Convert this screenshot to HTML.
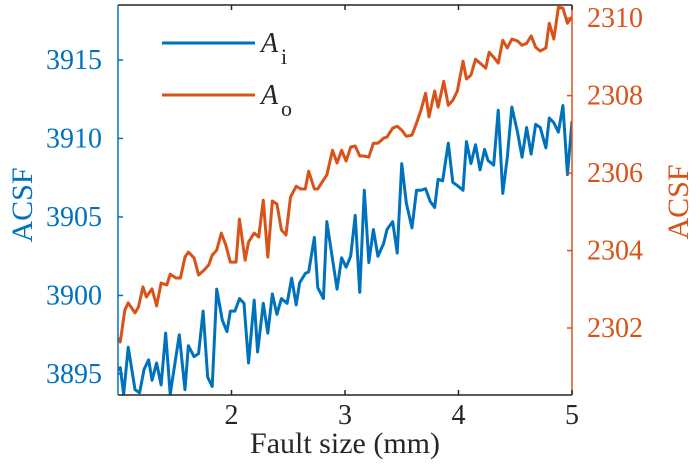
<!DOCTYPE html>
<html><head><meta charset="utf-8"><style>
body{margin:0;background:#fff}
svg text{font-family:"Liberation Serif",serif}
</style></head><body>
<svg id="chart" width="700" height="466" viewBox="0 0 700 466">
<g id="g"></g>
</svg>
<script>
const xTicks=[2,3,4,5];
const yLeftTicks=[3895,3900,3905,3910,3915];
const yRightTicks=[2302,2304,2306,2308,2310];
const xBlue=[1.00,1.02,1.05,1.09,1.15,1.19,1.23,1.27,1.30,1.34,1.38,1.42,1.46,1.54,1.59,1.62,1.67,1.71,1.75,1.79,1.83,1.87,1.92,1.96,1.99,2.03,2.07,2.11,2.15,2.20,2.23,2.28,2.32,2.36,2.40,2.44,2.49,2.53,2.57,2.60,2.65,2.68,2.73,2.76,2.81,2.84,2.93,2.97,3.01,3.05,3.09,3.13,3.17,3.21,3.25,3.29,3.34,3.37,3.42,3.46,3.50,3.54,3.59,3.63,3.67,3.71,3.75,3.79,3.82,3.86,3.91,3.95,3.99,4.04,4.07,4.11,4.15,4.19,4.23,4.26,4.31,4.35,4.39,4.43,4.47,4.52,4.56,4.60,4.64,4.68,4.72,4.77,4.80,4.84,4.88,4.92,4.96,5.00];
const yBlue=[3895.3,3895.4,3893.7,3896.7,3894.0,3893.8,3895.3,3895.9,3894.6,3895.7,3894.3,3897.6,3893.7,3897.5,3894.0,3896.8,3896.1,3896.3,3899.0,3894.8,3894.2,3900.4,3898.4,3897.7,3899.0,3899.0,3899.8,3899.5,3895.7,3899.7,3896.4,3899.5,3897.6,3900.1,3898.8,3899.8,3899.5,3901.1,3899.4,3900.8,3901.4,3901.5,3903.7,3900.5,3899.8,3904.7,3900.4,3902.4,3901.8,3902.5,3905.1,3900.2,3906.7,3902.1,3904.2,3902.5,3903.3,3904.2,3904.7,3902.7,3908.4,3905.9,3904.3,3906.7,3906.7,3906.8,3906.0,3905.6,3907.4,3907.3,3909.7,3907.2,3907.0,3906.7,3909.8,3908.4,3909.6,3908.0,3909.3,3908.6,3908.3,3911.8,3906.5,3908.8,3912.0,3910.4,3908.8,3910.7,3909.0,3910.9,3910.7,3909.4,3911.3,3911.0,3910.4,3912.1,3907.7,3911.1];
const xOrange=[1.00,1.02,1.06,1.09,1.15,1.18,1.22,1.25,1.30,1.34,1.38,1.43,1.46,1.51,1.55,1.59,1.62,1.67,1.71,1.76,1.80,1.83,1.87,1.91,1.95,1.99,2.04,2.07,2.12,2.15,2.20,2.24,2.28,2.32,2.36,2.40,2.44,2.48,2.52,2.57,2.61,2.65,2.68,2.73,2.76,2.81,2.84,2.89,2.93,2.97,3.01,3.05,3.09,3.13,3.17,3.21,3.25,3.29,3.34,3.37,3.42,3.46,3.50,3.54,3.59,3.63,3.67,3.71,3.74,3.79,3.82,3.87,3.91,3.95,3.99,4.04,4.07,4.11,4.15,4.19,4.24,4.27,4.31,4.35,4.39,4.43,4.47,4.52,4.56,4.60,4.64,4.68,4.72,4.77,4.80,4.84,4.88,4.92,4.96,5.00];
const yOrange=[2301.74,2301.64,2302.46,2302.65,2302.39,2302.54,2303.06,2302.80,2303.01,2302.57,2303.16,2303.11,2303.39,2303.29,2303.29,2303.83,2303.96,2303.81,2303.37,2303.50,2303.63,2303.88,2304.01,2304.45,2304.14,2303.70,2303.70,2304.81,2303.75,2304.22,2304.45,2304.35,2305.30,2303.83,2305.28,2305.20,2304.53,2304.40,2305.38,2305.66,2305.59,2305.59,2306.05,2305.59,2305.59,2305.82,2305.95,2306.59,2306.26,2306.59,2306.31,2306.67,2306.70,2306.44,2306.44,2306.41,2306.77,2306.77,2306.90,2306.93,2307.16,2307.21,2307.11,2306.95,2306.98,2307.29,2307.63,2308.06,2307.45,2308.12,2307.70,2308.37,2307.75,2307.88,2308.12,2308.89,2308.43,2308.53,2308.94,2308.84,2308.71,2309.12,2308.99,2308.84,2309.43,2309.23,2309.46,2309.41,2309.30,2309.35,2309.54,2309.25,2309.15,2309.23,2309.87,2309.46,2310.28,2310.26,2309.87,2310.03];

const X0=118,X1=572,Y0=5,Y1=395;
const BLUE='#0072BD',OR='#D95319';
const sx=v=>X0+(v-1)/(5-1)*(X1-X0);
const syL=v=>Y1-(v-3893.66)/(3918.5-3893.66)*(Y1-Y0);
const syR=v=>Y1-(v-2300.27)/(2310.34-2300.27)*(Y1-Y0);
const NS='http://www.w3.org/2000/svg';
const g=document.getElementById('g');
function mk(t,a,txt){const e=document.createElementNS(NS,t);for(const k in a)e.setAttribute(k,a[k]);if(txt!==undefined)e.textContent=txt;g.appendChild(e);return e;}

let clip=document.createElementNS(NS,'clipPath');clip.setAttribute('id','pc');
let cr=document.createElementNS(NS,'rect');cr.setAttribute('x',X0);cr.setAttribute('y',Y0);cr.setAttribute('width',X1-X0);cr.setAttribute('height',Y1-Y0);
clip.appendChild(cr);g.appendChild(clip);

let e;
e=mk('polyline',{points:xBlue.map((x,i)=>sx(x)+','+syL(yBlue[i])).join(' '),fill:'none',stroke:BLUE,'stroke-width':3,'stroke-linejoin':'round','clip-path':'url(#pc)'});


e=mk('polyline',{points:xOrange.map((x,i)=>sx(x)+','+syR(yOrange[i])).join(' '),fill:'none',stroke:OR,'stroke-width':3,'stroke-linejoin':'round','clip-path':'url(#pc)'});



e=mk('line',{x1:X0,y1:Y0,x2:X1,y2:Y0,stroke:'#262626','stroke-width':1.5});

e=mk('line',{x1:X0,y1:Y1,x2:X1,y2:Y1,stroke:'#262626','stroke-width':1.5});

e=mk('line',{x1:X0,y1:Y0,x2:X0,y2:Y1,stroke:BLUE,'stroke-width':1.5});

e=mk('line',{x1:X1,y1:Y0,x2:X1,y2:Y1,stroke:OR,'stroke-width':1.5});


xTicks.forEach(t=>{
  mk('line',{x1:sx(t),y1:Y1,x2:sx(t),y2:Y1-5,stroke:'#262626','stroke-width':1.5});
  mk('line',{x1:sx(t),y1:Y0,x2:sx(t),y2:Y0+5,stroke:'#262626','stroke-width':1.5});
  e=mk('text',{x:sx(t),y:424,'font-size':28,fill:'#262626','text-anchor':'middle'},String(t));
  
});
yLeftTicks.forEach(t=>{
  mk('line',{x1:X0,y1:syL(t),x2:X0+5,y2:syL(t),stroke:BLUE,'stroke-width':1.5});
  e=mk('text',{x:102,y:syL(t)+9,'font-size':28,fill:BLUE,'text-anchor':'end'},String(t));
  
});
yRightTicks.forEach(t=>{
  mk('line',{x1:X1,y1:syR(t),x2:X1-5,y2:syR(t),stroke:OR,'stroke-width':1.5});
  e=mk('text',{x:587,y:syR(t)+9,'font-size':28,fill:OR,'text-anchor':'start'},String(t));
  
});
e=mk('text',{x:345,y:453,'font-size':30,fill:'#262626','text-anchor':'middle'},'Fault size (mm)');

e=mk('text',{x:0,y:0,'font-size':30,fill:BLUE,'text-anchor':'middle',transform:'translate(32,205) rotate(-90)'},'ACSF');

e=mk('text',{x:0,y:0,'font-size':30,fill:OR,'text-anchor':'middle',transform:'translate(688,202) rotate(-90)'},'ACSF');


e=mk('line',{x1:162,y1:43,x2:255,y2:43,stroke:BLUE,'stroke-width':3});

e=mk('text',{x:261,y:52,'font-size':28,fill:'#262626','font-style':'italic'},'A');

mk('text',{x:281,y:64,'font-size':22,fill:'#262626'},'i');
e=mk('line',{x1:162,y1:95,x2:255,y2:95,stroke:OR,'stroke-width':3});

e=mk('text',{x:261,y:104,'font-size':28,fill:'#262626','font-style':'italic'},'A');

mk('text',{x:281,y:116,'font-size':22,fill:'#262626'},'o');
</script>
</body></html>
